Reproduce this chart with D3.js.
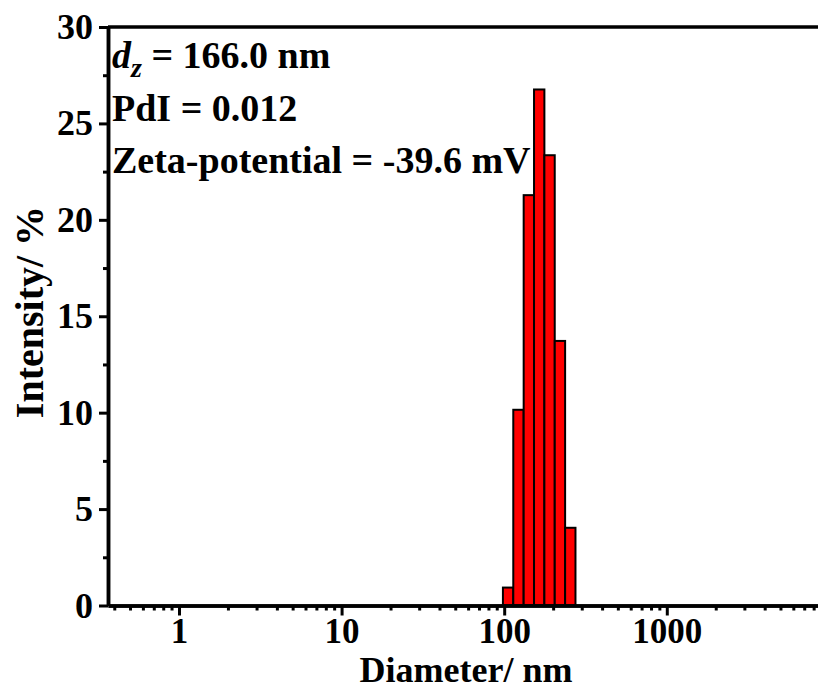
<!DOCTYPE html>
<html>
<head>
<meta charset="utf-8">
<script src="https://cdn.jsdelivr.net/npm/d3@7"></script>
<style>
body { margin: 0; background: #fff; }
text { font-family: "Liberation Serif", "Times New Roman", serif; font-weight: bold; }
</style>
</head>
<body>
<div id="svg"></div>
<script>
// bin centres (nm) and intensity (%)
var diameters = [105.7, 122.4, 141.8, 164.2, 190.1, 220.2, 255.0];
var intensity = [0.93, 10.15, 21.28, 26.76, 23.35, 13.72, 4.03];
var binRatio = 1.158;

var yTicks = [0, 5, 10, 15, 20, 25, 30];
var xTicks = [1, 10, 100, 1000];
var notes = ["PdI = 0.012", "Zeta-potential = -39.6 mV"];

var width = 818, height = 690;

var svg = d3.select("#svg")
    .append("svg")
    .attr("width", width)
    .attr("height", height);

var x = d3.scaleLog()
    .domain([0.366, 10000])
    .range([108, 829.4]);

var y = d3.scaleLinear()
    .domain([0, 30])
    .range([605.5, 27]);

// bars
var half = Math.sqrt(binRatio);
svg.append("g")
    .selectAll("rect")
    .data(diameters)
    .enter()
    .append("rect")
    .attr("x", function(d) { return x(d / half); })
    .attr("width", function(d) { return x(d * half) - x(d / half); })
    .attr("y", function(d, i) { return y(intensity[i]); })
    .attr("height", function(d, i) { return y(0) - y(intensity[i]); })
    .style("fill", "#ff0000")
    .style("stroke", "#000")
    .style("stroke-width", 2);

// minor ticks for log axis
var xMinor = [];
[0.1, 1, 10, 100, 1000].forEach(function(dec) {
    for (var k = 2; k <= 9; k++) {
        var v = dec * k;
        if (v > 0.366 && v < 10000) xMinor.push(v);
    }
});

// x axis
var xAxis = svg.append("g")
    .attr("transform", "translate(0," + y(0) + ")");
xAxis.call(d3.axisBottom(x).tickValues(xTicks).tickFormat(d3.format("d")).tickSizeInner(10).tickSizeOuter(0).tickPadding(3));
xAxis.append("g").call(d3.axisBottom(x).tickValues(xMinor).tickFormat("").tickSizeInner(5).tickSizeOuter(0));
xAxis.selectAll("path").style("stroke-width", 3.5);
xAxis.selectAll("line").style("stroke-width", 3);
xAxis.selectAll("text").style("font-size", "35px").style("fill", "#000");

// y axis
var yMinor = d3.range(2.5, 30, 5);
var yAxis = svg.append("g")
    .attr("transform", "translate(" + x.range()[0] + ",0)");
yAxis.call(d3.axisLeft(y).tickValues(yTicks).tickSizeInner(9).tickSizeOuter(0).tickPadding(6));
yAxis.append("g").call(d3.axisLeft(y).tickValues(yMinor).tickFormat("").tickSizeInner(5).tickSizeOuter(0));
yAxis.selectAll("path").style("stroke-width", 3.5);
yAxis.selectAll("line").style("stroke-width", 3);
yAxis.selectAll("text").style("font-size", "36px").style("fill", "#000");

// top border
svg.append("line")
    .attr("x1", x.range()[0]).attr("x2", x.range()[1])
    .attr("y1", y(30)).attr("y2", y(30))
    .style("stroke", "#000")
    .style("stroke-width", 3.5);

// axis titles
svg.append("text")
    .attr("x", 466)
    .attr("y", 682)
    .attr("text-anchor", "middle")
    .style("font-size", "36px")
    .text("Diameter/ nm");

svg.append("text")
    .attr("transform", "translate(43,312) rotate(-90)")
    .attr("text-anchor", "middle")
    .style("font-size", "40px")
    .text("Intensity/ %");

// annotations
var t1 = svg.append("text")
    .attr("x", 112)
    .attr("y", 68)
    .style("font-size", "38px");
t1.append("tspan").style("font-style", "italic").text("d");
t1.append("tspan").style("font-style", "italic").style("font-size", "28px").attr("dy", 9).text("z");
t1.append("tspan").attr("dy", -9).text(" = 166.0 nm");

svg.selectAll(".note")
    .data(notes)
    .enter()
    .append("text")
    .attr("class", "note")
    .attr("x", 112)
    .attr("y", function(d, i) { return 121 + i * 52; })
    .style("font-size", "38px")
    .text(function(d) { return d; });
</script>
</body>
</html>
